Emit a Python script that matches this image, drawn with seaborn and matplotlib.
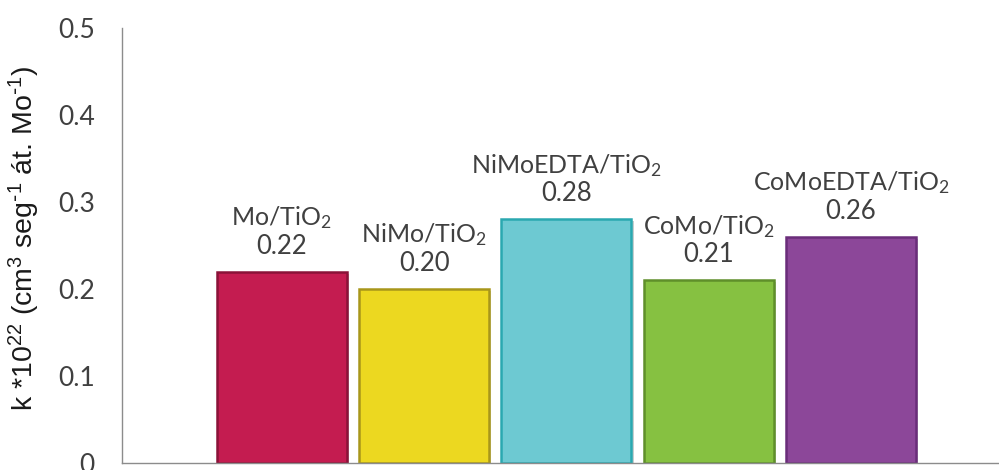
import matplotlib
matplotlib.use("Agg")
import matplotlib.pyplot as plt
import matplotlib.patheffects as pe
import seaborn as sns
import pandas as pd

# Catalyst rate constants
catalysts = ["Mo/TiO$_2$", "NiMo/TiO$_2$", "NiMoEDTA/TiO$_2$", "CoMo/TiO$_2$", "CoMoEDTA/TiO$_2$"]
k_values = [0.22, 0.20, 0.28, 0.21, 0.26]
y_ticks = [0.0, 0.1, 0.2, 0.3, 0.4, 0.5]
y_tick_labels = ["0", "0.1", "0.2", "0.3", "0.4", "0.5"]

fill_colors = ["#C41C50", "#ECD820", "#6DC9D2", "#86C141", "#8C4799"]
edge_colors = ["#8A1238", "#A8961A", "#2AA8B0", "#5F8F2A", "#6A2D7A"]

sns.set_theme(style="white")
plt.rcParams["font.family"] = ["Lato", "DejaVu Sans"]
plt.rcParams["mathtext.default"] = "regular"

df = pd.DataFrame({"catalyst": catalysts, "k": k_values})

fig = plt.figure(figsize=(9.99, 4.70), dpi=100)
ax = fig.add_axes([122 / 999, 7 / 470, 877 / 999, 435 / 470])

sns.barplot(data=df, x="catalyst", y="k", hue="catalyst", palette=fill_colors,
            legend=False, width=0.914, saturation=1, ax=ax)

for bar, ec in zip(ax.patches, edge_colors):
    bar.set_edgecolor(ec)
    bar.set_linewidth(1.8)
    bar.set_path_effects([pe.SimplePatchShadow(offset=(1.5, -1.5), alpha=0.25),
                          pe.Normal()])

# Two-line labels above each bar: catalyst name and k value
for i, (name, v) in enumerate(zip(catalysts, k_values)):
    ax.annotate(f"{v:.2f}", xy=(i, v), xytext=(0, 13), textcoords="offset points",
                ha="center", va="baseline", fontsize=18.5, color="#404040")
    ax.annotate(name, xy=(i, v), xytext=(0, 33.5), textcoords="offset points",
                ha="center", va="baseline", fontsize=18, color="#404040")

ax.set_xlim(-1.124, 5.04)
ax.set_ylim(0, 0.5)
ax.set_yticks(y_ticks)
ax.set_yticklabels(y_tick_labels, fontsize=19, color="#404040")
ax.tick_params(axis="y", length=0, pad=19.5)
ax.set_xticks([])
ax.set_xlabel("")

ax.set_ylabel(r"k *10$^{22}$ (cm$^{3}$ seg$^{\text{-}1}$ át. Mo$^{\text{-}1}$)",
              fontsize=20.5, family=["Liberation Sans", "DejaVu Sans"], color="#1a1a1a")
ax.yaxis.set_label_coords(-0.091, 0.515)

for side in ["top", "right"]:
    ax.spines[side].set_visible(False)
for side in ["left", "bottom"]:
    ax.spines[side].set_color("#8c8c8c")
    ax.spines[side].set_linewidth(1.0)

fig.savefig("out.png", dpi=100)
